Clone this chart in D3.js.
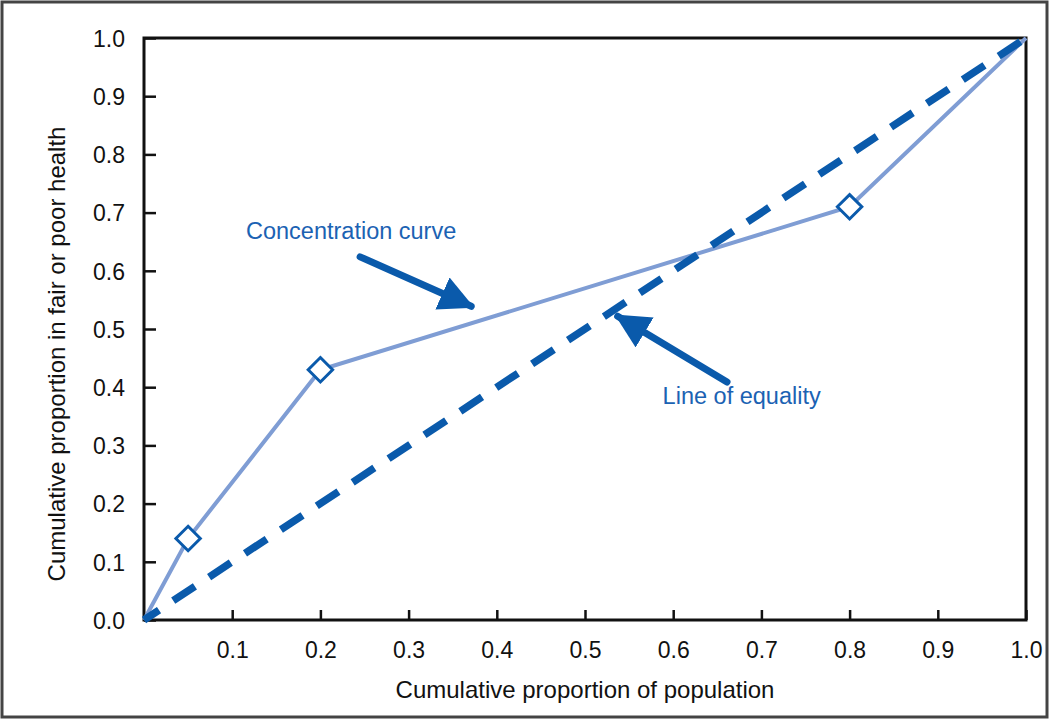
<!DOCTYPE html>
<html><head><meta charset="utf-8">
<script src="https://cdn.jsdelivr.net/npm/d3@7"></script>
<style>body{margin:0;background:#fff;} text{font-family:"Liberation Sans",Arial,Helvetica,sans-serif;}</style>
</head><body>
<svg id="c" width="1050" height="721"></svg>
<script>
const curveX = [0, 0.05, 0.2, 0.8, 1.0];
const curveY = [0, 0.14, 0.43, 0.71, 1.0];
const markerIdx = [1, 2, 3];
const equalityX = [0, 1];
const equalityY = [0, 1];
const xTicks = [0.1,0.2,0.3,0.4,0.5,0.6,0.7,0.8,0.9,1.0];
const yTicks = [0.0,0.1,0.2,0.3,0.4,0.5,0.6,0.7,0.8,0.9,1.0];
const labels = [
  {text:"Concentration curve", x:0.1156, y:0.670},
  {text:"Line of equality", x:0.588, y:0.385}
];
const arrows = [
  {x1:0.245, y1:0.624, x2:0.371, y2:0.539},
  {x1:0.661, y1:0.409, x2:0.537, y2:0.522}
];

const svg = d3.select("#c");
const L=144, R=1026, T=38, B=620;
const x = d3.scaleLinear().domain([0,1]).range([L,R]);
const y = d3.scaleLinear().domain([0,1]).range([B,T]);
const blue="#0a5aab", light="#7f9dd4", txt="#1b62b3";

svg.append("rect").attr("x",2).attr("y",2).attr("width",1045).attr("height",715)
  .attr("fill","none").attr("stroke","#444").attr("stroke-width",3);

svg.append("defs").append("marker").attr("id","ah").attr("viewBox","0 0 10 10")
  .attr("refX",9).attr("refY",5).attr("markerWidth",5).attr("markerHeight",5)
  .attr("markerUnits","strokeWidth").attr("orient","auto")
  .append("path").attr("d","M0,0L10,5L0,10z").attr("fill",blue);

// axes
const ya = svg.append("g").attr("transform",`translate(${L},0)`)
  .call(d3.axisLeft(y).tickValues(yTicks).tickFormat(d3.format(".1f")).tickSizeInner(-12).tickSizeOuter(0).tickPadding(19));
const xa = svg.append("g").attr("transform",`translate(0,${B})`)
  .call(d3.axisBottom(x).tickValues(xTicks).tickFormat(d3.format(".1f")).tickSizeInner(-10).tickSizeOuter(0).tickPadding(22));
[ya,xa].forEach(g=>{
  g.select(".domain").remove();
  g.selectAll("line").attr("stroke","#111").attr("stroke-width",2.5);
  g.selectAll("text").attr("font-size",23).attr("fill","#111");
});
ya.selectAll("text").attr("dy","0.36em");
svg.append("rect").attr("x",L).attr("y",T).attr("width",R-L).attr("height",B-T)
  .attr("fill","none").attr("stroke","#111").attr("stroke-width",3);

// lines
const line = d3.line().x(d=>x(d[0])).y(d=>y(d[1]));
svg.append("path").datum(curveX.map((v,i)=>[v,curveY[i]])).attr("d",line)
  .attr("fill","none").attr("stroke",light).attr("stroke-width",4);
svg.append("path").datum(equalityX.map((v,i)=>[v,equalityY[i]])).attr("d",line)
  .attr("fill","none").attr("stroke",blue).attr("stroke-width",7.5)
  .attr("stroke-dasharray","26,17").attr("stroke-dashoffset",8);

svg.selectAll(".mk").data(markerIdx).join("path")
  .attr("d",d3.symbol(d3.symbolDiamond2,380)())
  .attr("transform",i=>`translate(${x(curveX[i])},${y(curveY[i])})`)
  .attr("fill","#fff").attr("stroke",blue).attr("stroke-width",3);

// arrows
svg.selectAll(".ar").data(arrows).join("line")
  .attr("x1",d=>x(d.x1)).attr("y1",d=>y(d.y1)).attr("x2",d=>x(d.x2)).attr("y2",d=>y(d.y2))
  .attr("stroke",blue).attr("stroke-width",7).attr("stroke-linecap","round").attr("marker-end","url(#ah)");

svg.selectAll(".lb").data(labels).join("text")
  .attr("x",d=>x(d.x)).attr("y",d=>y(d.y)).attr("dy","0.36em")
  .attr("font-size",23.5).attr("fill",txt).text(d=>d.text);

svg.append("text").attr("x",585).attr("y",698).attr("text-anchor","middle")
  .attr("font-size",24).attr("fill","#111").text("Cumulative proportion of population");
svg.append("text").attr("transform",`translate(65,354) rotate(-90)`).attr("text-anchor","middle")
  .attr("font-size",24).attr("fill","#111").text("Cumulative proportion in fair or poor health");
</script>
</body></html>
